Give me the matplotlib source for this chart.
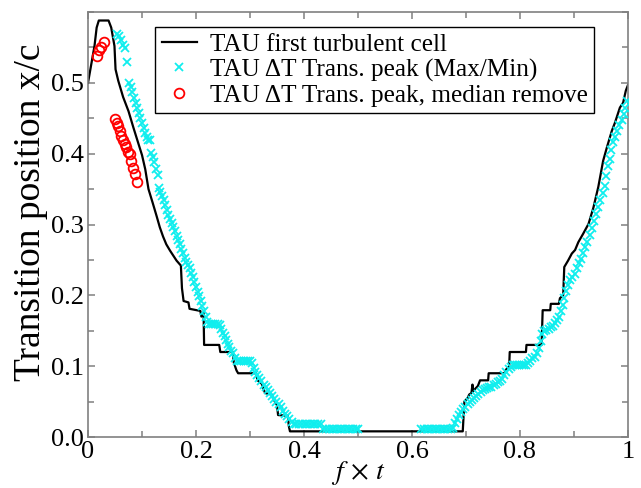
"""
Transition position over one cycle: first turbulent cell vs. Delta-T peak.
Saves out.png.
"""
import matplotlib
matplotlib.use('Agg')
import matplotlib.pyplot as plt
from matplotlib.ticker import MultipleLocator

plt.rcParams['font.family'] = ['Liberation Serif', 'DejaVu Serif']
plt.rcParams['mathtext.fontset'] = 'stix'

# black line: TAU first turbulent cell
cell_t = [0.000, 0.012, 0.016, 0.020, 0.038, 0.043, 0.049, 0.051, 0.056, 0.065,
          0.075, 0.084, 0.093, 0.100, 0.106, 0.112, 0.120, 0.127, 0.133, 0.139,
          0.145, 0.152, 0.158, 0.164, 0.172, 0.174, 0.177, 0.186, 0.188, 0.208,
          0.210, 0.214, 0.215, 0.243, 0.245, 0.268, 0.270, 0.275, 0.278, 0.311,
          0.314, 0.322, 0.325, 0.328, 0.340, 0.343, 0.346, 0.350, 0.352, 0.370,
          0.372, 0.374, 0.694, 0.697, 0.703, 0.706, 0.710, 0.712, 0.713, 0.717,
          0.722, 0.726, 0.741, 0.742, 0.771, 0.775, 0.780, 0.781, 0.811, 0.812,
          0.840, 0.842, 0.856, 0.857, 0.872, 0.874, 0.880, 0.882, 0.889, 0.896,
          0.902, 0.908, 0.917, 0.927, 0.936, 0.945, 0.954, 0.961, 0.970, 0.976,
          0.985, 0.991, 0.996, 1.000]
cell_x = [0.500, 0.552, 0.578, 0.588, 0.588, 0.578, 0.552, 0.519, 0.503, 0.480,
          0.460, 0.437, 0.415, 0.398, 0.378, 0.350, 0.330, 0.312, 0.296, 0.283,
          0.272, 0.263, 0.256, 0.249, 0.242, 0.210, 0.192, 0.190, 0.181, 0.178,
          0.170, 0.176, 0.130, 0.130, 0.120, 0.120, 0.105, 0.094, 0.090, 0.090,
          0.080, 0.075, 0.068, 0.062, 0.060, 0.055, 0.050, 0.045, 0.031, 0.030,
          0.015, 0.008, 0.008, 0.050, 0.055, 0.060, 0.062, 0.074, 0.064, 0.068,
          0.072, 0.080, 0.080, 0.090, 0.090, 0.096, 0.100, 0.120, 0.120, 0.130,
          0.130, 0.179, 0.179, 0.188, 0.188, 0.196, 0.200, 0.240, 0.249, 0.259,
          0.264, 0.275, 0.287, 0.301, 0.324, 0.353, 0.390, 0.409, 0.432, 0.444,
          0.465, 0.472, 0.489, 0.497]

# cyan crosses: Delta-T transition peak (Max/Min)
peak_t = [0.053, 0.057, 0.061, 0.065, 0.068, 0.072, 0.076, 0.079, 0.082, 0.085,
          0.088, 0.091, 0.094, 0.097, 0.100, 0.103, 0.106, 0.109, 0.112, 0.115,
          0.117, 0.120, 0.123, 0.126, 0.129, 0.131, 0.134, 0.137, 0.140, 0.143,
          0.146, 0.149, 0.152, 0.155, 0.158, 0.161, 0.164, 0.167, 0.170, 0.173,
          0.176, 0.179, 0.182, 0.185, 0.188, 0.191, 0.194, 0.197, 0.200, 0.203,
          0.206, 0.209, 0.212, 0.215, 0.218, 0.220, 0.224, 0.228, 0.232, 0.236,
          0.240, 0.244, 0.247, 0.250, 0.253, 0.256, 0.259, 0.262, 0.265, 0.268,
          0.272, 0.276, 0.280, 0.284, 0.288, 0.292, 0.296, 0.300, 0.304, 0.307,
          0.310, 0.313, 0.317, 0.321, 0.325, 0.329, 0.333, 0.337, 0.341, 0.345,
          0.349, 0.353, 0.357, 0.361, 0.365, 0.369, 0.373, 0.377, 0.381, 0.386,
          0.391, 0.396, 0.401, 0.406, 0.411, 0.416, 0.421, 0.426, 0.431, 0.436,
          0.441, 0.446, 0.451, 0.456, 0.461, 0.466, 0.471, 0.476, 0.481, 0.486,
          0.491, 0.496, 0.500, 0.617, 0.622, 0.627, 0.632, 0.637, 0.642, 0.647,
          0.652, 0.657, 0.662, 0.667, 0.672, 0.676, 0.679, 0.683, 0.687, 0.691,
          0.695, 0.699, 0.703, 0.707, 0.711, 0.715, 0.719, 0.723, 0.727, 0.731,
          0.735, 0.739, 0.743, 0.747, 0.751, 0.755, 0.759, 0.763, 0.767, 0.771,
          0.775, 0.779, 0.783, 0.787, 0.791, 0.795, 0.799, 0.803, 0.807, 0.811,
          0.815, 0.819, 0.823, 0.827, 0.831, 0.835, 0.838, 0.841, 0.845, 0.849,
          0.853, 0.857, 0.861, 0.865, 0.869, 0.873, 0.876, 0.879, 0.882, 0.885,
          0.889, 0.893, 0.897, 0.901, 0.905, 0.909, 0.913, 0.917, 0.921, 0.925,
          0.929, 0.933, 0.937, 0.941, 0.945, 0.949, 0.953, 0.957, 0.960, 0.963,
          0.966, 0.969, 0.972, 0.976, 0.980, 0.984, 0.988, 0.992, 0.995, 0.998]
peak_x = [0.569, 0.566, 0.561, 0.554, 0.549, 0.530, 0.500, 0.494, 0.487, 0.479,
          0.472, 0.465, 0.457, 0.450, 0.443, 0.436, 0.429, 0.423, 0.420, 0.420,
          0.401, 0.396, 0.388, 0.378, 0.370, 0.352, 0.346, 0.340, 0.334, 0.328,
          0.321, 0.314, 0.308, 0.302, 0.296, 0.291, 0.284, 0.278, 0.272, 0.266,
          0.260, 0.253, 0.247, 0.243, 0.238, 0.232, 0.226, 0.219, 0.212, 0.205,
          0.199, 0.192, 0.185, 0.178, 0.170, 0.162, 0.160, 0.160, 0.160, 0.160,
          0.160, 0.158, 0.152, 0.147, 0.142, 0.137, 0.132, 0.127, 0.122, 0.118,
          0.112, 0.108, 0.108, 0.108, 0.108, 0.108, 0.108, 0.108, 0.105, 0.098,
          0.092, 0.087, 0.083, 0.079, 0.074, 0.070, 0.066, 0.062, 0.058, 0.054,
          0.050, 0.046, 0.042, 0.037, 0.033, 0.029, 0.025, 0.021, 0.019, 0.019,
          0.019, 0.019, 0.019, 0.019, 0.019, 0.019, 0.019, 0.019, 0.019, 0.011,
          0.011, 0.011, 0.011, 0.011, 0.011, 0.011, 0.011, 0.011, 0.011, 0.011,
          0.011, 0.011, 0.011, 0.011, 0.011, 0.011, 0.011, 0.011, 0.011, 0.011,
          0.011, 0.011, 0.011, 0.011, 0.011, 0.013, 0.020, 0.026, 0.031, 0.036,
          0.040, 0.043, 0.046, 0.049, 0.052, 0.055, 0.058, 0.061, 0.064, 0.066,
          0.068, 0.069, 0.070, 0.071, 0.073, 0.075, 0.077, 0.079, 0.082, 0.087,
          0.092, 0.096, 0.099, 0.101, 0.102, 0.102, 0.102, 0.102, 0.102, 0.102,
          0.105, 0.108, 0.111, 0.113, 0.118, 0.125, 0.135, 0.145, 0.150, 0.151,
          0.153, 0.155, 0.157, 0.161, 0.165, 0.170, 0.178, 0.186, 0.196, 0.206,
          0.215, 0.221, 0.226, 0.230, 0.238, 0.245, 0.252, 0.260, 0.268, 0.276,
          0.285, 0.295, 0.305, 0.315, 0.325, 0.335, 0.345, 0.354, 0.368, 0.382,
          0.393, 0.405, 0.416, 0.424, 0.432, 0.440, 0.448, 0.456, 0.465, 0.474]

# red circles: Delta-T transition peak, median removed
median_t = [0.016, 0.020, 0.024, 0.029,
            0.050, 0.053, 0.056, 0.059, 0.062, 0.065, 0.068, 0.071, 0.074,
            0.077, 0.080, 0.083, 0.087, 0.090]
median_x = [0.538, 0.546, 0.551, 0.558,
            0.449, 0.443, 0.439, 0.432, 0.425, 0.420, 0.414, 0.409, 0.402,
            0.399, 0.390, 0.380, 0.371, 0.360]

LABELS = [
    'TAU first turbulent cell',
    'TAU \u0394T Trans. peak (Max/Min)',
    'TAU \u0394T Trans. peak, median remove',
]

fig = plt.figure(figsize=(6.41, 4.88), dpi=100)
ax = fig.add_axes([0.1373, 0.1045, 0.8424, 0.8709])

ax.plot(cell_t, cell_x, color='black', lw=1.6, label=LABELS[0], zorder=2)
ax.plot(peak_t, peak_x, ls='none', marker='x', ms=5.5, mew=1.3,
        color='#10eeee', label=LABELS[1], zorder=3)
ax.plot(median_t, median_x, ls='none', marker='o', ms=7, mew=1.3,
        mfc='none', mec='red', label=LABELS[2], zorder=4)

ax.set_xlim(0, 1)
ax.set_ylim(0, 0.6)
ax.xaxis.set_minor_locator(MultipleLocator(0.1))
ax.yaxis.set_minor_locator(MultipleLocator(0.05))
ax.set_xticks([0, 0.2, 0.4, 0.6, 0.8, 1.0])
ax.set_xticklabels(['0', '0.2', '0.4', '0.6', '0.8', '1'])
ax.set_yticks([0.0, 0.1, 0.2, 0.3, 0.4, 0.5])
ax.set_yticklabels(['0.0', '0.1', '0.2', '0.3', '0.4', '0.5'])

for side in ax.spines.values():
    side.set_color('#808080')
    side.set_linewidth(1.2)
ax.tick_params(which='both', direction='in', top=True, right=True,
               color='#808080', labelsize=19, pad=3)
ax.tick_params(which='major', length=5, width=1.1)
ax.tick_params(which='minor', length=4, width=1.1)

ax.set_xlabel(r'$f\,\times\,t$', fontsize=20, labelpad=-3)
ax.set_ylabel('Transition position x/c', fontsize=27)
ax.yaxis.set_label_coords(-0.075, 0.53)

leg = ax.legend(loc='upper right', bbox_to_anchor=(0.937, 0.965),
                borderaxespad=0, fontsize=18.2, fancybox=False,
                edgecolor='black', framealpha=1, handlelength=1.4,
                labelspacing=0.1, handletextpad=0.5, borderpad=0.25)
leg.get_frame().set_linewidth(1.0)

fig.savefig('out.png', dpi=100)
